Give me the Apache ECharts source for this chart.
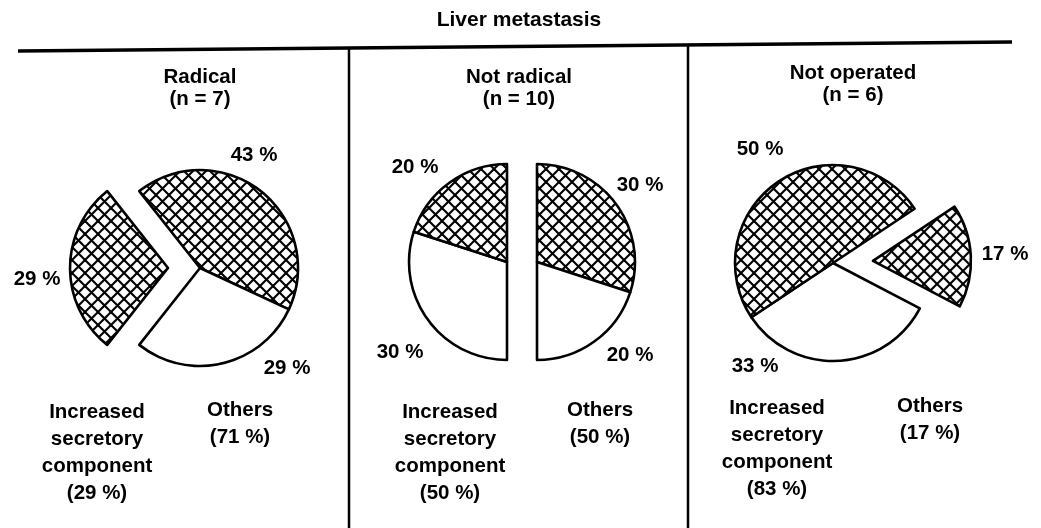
<!DOCTYPE html>
<html><head><meta charset="utf-8">
<script src="https://cdn.jsdelivr.net/npm/echarts@6/dist/echarts.min.js"></script>
<style>html,body{margin:0;padding:0;background:#fff}#c{width:1041px;height:528px}</style>
</head><body><div id="c"></div>
<script>
// ---------- data ----------
const chartTitle = 'Liver metastasis';
const groups = ['Radical', 'Not radical', 'Not operated'];
const groupN = [7, 10, 6];
const increasedPct = [29, 50, 83];
const othersPct = [71, 50, 17];

// slice values (%) in clockwise drawing order
const radicalValues = [43, 29, 29];
const radicalHatched = [true, false, true];
const radicalExploded = [false, false, true];

const notRadicalLeftValues = [30, 20];   // Increased secretory component half
const notRadicalLeftHatched = [false, true];
const notRadicalRightValues = [30, 20];  // Others half
const notRadicalRightHatched = [true, false];

const notOperatedValues = [17, 33, 50];
const notOperatedHatched = [true, false, true];
const notOperatedExploded = [true, false, false];

// ---------- styling / layout ----------
const FONT = '"Liberation Sans", Arial, Helvetica, sans-serif';
const FS = 20.5;
// label anchor (centre) per slice, same order as the value arrays
const labelPos = [
  [[254,155],[287,368],[37,279]],
  [[400,352],[415,167]],
  [[640,185],[630,355]],
  [[1005,254],[755,366],[760,149]]
];
const pieValues = [radicalValues, notRadicalLeftValues, notRadicalRightValues, notOperatedValues];

function makeHatch(){
  const s = 13;
  const c = document.createElement('canvas');
  c.width = s; c.height = s;
  const g = c.getContext('2d');
  g.fillStyle = '#fff'; g.fillRect(0,0,s,s);
  g.strokeStyle = '#000'; g.lineWidth = 2.1;
  for (const k of [-1,0,1]) {
    g.beginPath(); g.moveTo(k*s, 0); g.lineTo(k*s + s, s); g.stroke();
    g.beginPath(); g.moveTo(k*s + s, 0); g.lineTo(k*s, s); g.stroke();
  }
  return c;
}
const hatch = {image: makeHatch(), repeat: 'repeat'};

function items(values, hatched, exploded){
  return values.map((v,i)=>{
    const st = {color: hatched[i] ? hatch : '#fff', borderColor:'#000', borderWidth:2.6};
    return {value: v, selected: exploded ? exploded[i] : false, itemStyle: st, select:{itemStyle: st}};
  });
}

function pieSeries(center, startAngle, endAngle, offset, data){
  const s = {
    type:'pie', radius: 98, center: center, startAngle: startAngle,
    clockwise: true, selectedMode: 'multiple', selectedOffset: offset,
    avoidLabelOverlap: false, animation: false, silent: true,
    emphasis: {disabled: true},
    label: {show: false}, labelLine: {show:false},
    data: data
  };
  if (endAngle !== null) s.endAngle = endAngle;
  return s;
}

function txt(text, x, y, lh, fs, va){
  return {type:'text', silent:true, z: 10, style:{text: text, x: x, y: y, fill:'#000',
    font: 'bold ' + (fs || FS) + 'px ' + FONT, align:'center', verticalAlign: va || 'top', lineHeight: lh}};
}

const graphics = [
  txt(chartTitle, 519, 9, 22, 21),
  {type:'line', silent:true, shape:{x1:18, y1:51, x2:1012, y2:42}, style:{stroke:'#000', lineWidth:3.5}},
  {type:'line', silent:true, shape:{x1:349, y1:48, x2:349, y2:528}, style:{stroke:'#000', lineWidth:2.5}},
  {type:'line', silent:true, shape:{x1:688, y1:45, x2:688, y2:528}, style:{stroke:'#000', lineWidth:2.5}},
  txt(groups[0] + '\n(n = ' + groupN[0] + ')', 200, 66, 22),
  txt(groups[1] + '\n(n = ' + groupN[1] + ')', 519, 66, 22),
  txt(groups[2] + '\n(n = ' + groupN[2] + ')', 853, 62, 22),
  txt('Increased\nsecretory\ncomponent\n(' + increasedPct[0] + ' %)', 97, 399, 27),
  txt('Others\n(' + othersPct[0] + ' %)', 240, 397, 27),
  txt('Increased\nsecretory\ncomponent\n(' + increasedPct[1] + ' %)', 450, 399, 27),
  txt('Others\n(' + othersPct[1] + ' %)', 600, 397, 27),
  txt('Increased\nsecretory\ncomponent\n(' + increasedPct[2] + ' %)', 777, 395, 27),
  txt('Others\n(' + othersPct[2] + ' %)', 930, 393, 27)
];
pieValues.forEach((vals, si) => vals.forEach((v, di) => {
  const q = labelPos[si][di];
  graphics.push(txt(v + ' %', q[0], q[1], 22, FS, 'middle'));
}));

const chart = echarts.init(document.getElementById('c'), null, {renderer:'canvas'});
chart.setOption({
  animation: false,
  backgroundColor: '#fff',
  graphic: graphics,
  series: [
    pieSeries([200,268], 128.3, null, 32, items(radicalValues, radicalHatched, radicalExploded)),
    pieSeries([507,262], 270, 90, 0, items(notRadicalLeftValues, notRadicalLeftHatched, null)),
    pieSeries([537,262], 90, -90, 0, items(notRadicalRightValues, notRadicalRightHatched, null)),
    pieSeries([833,263], 33.6, null, 40, items(notOperatedValues, notOperatedHatched, notOperatedExploded))
  ]
});
</script>
</body></html>
